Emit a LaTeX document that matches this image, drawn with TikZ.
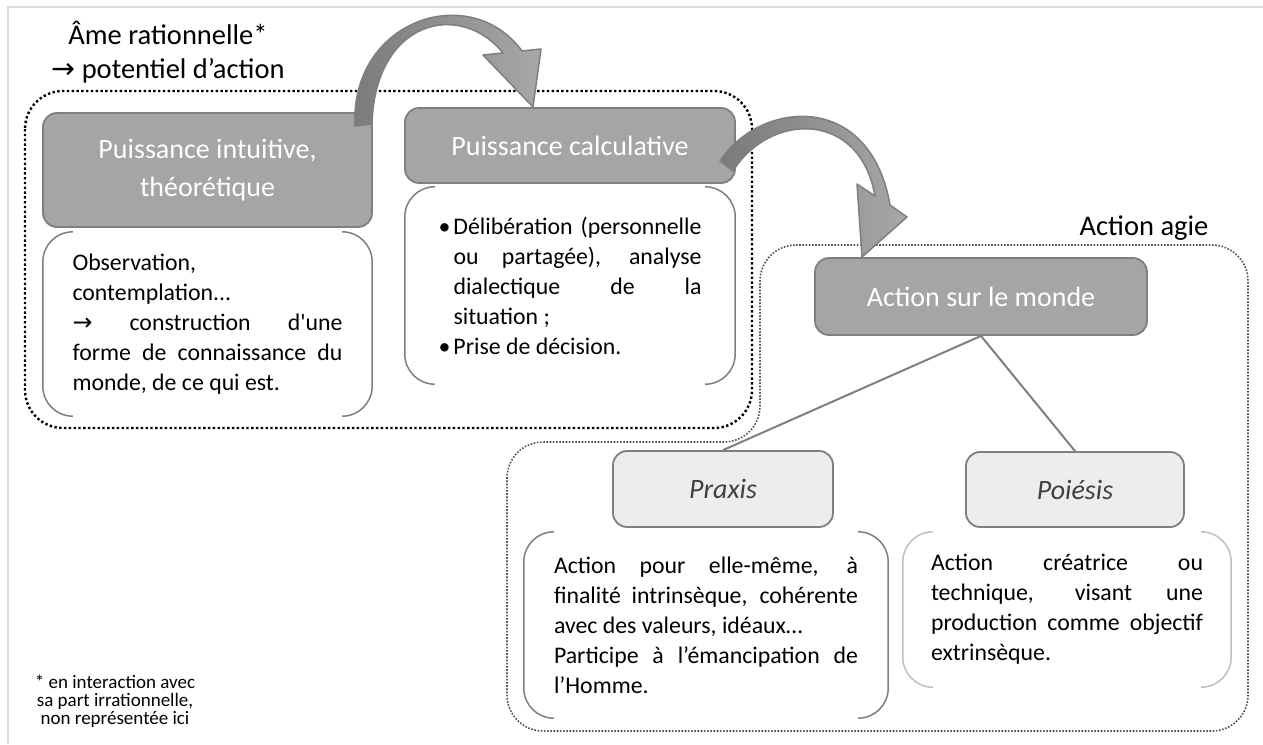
\documentclass[tikz,border=0pt]{standalone}
\usepackage{fontspec}
\setmainfont{Carlito}
\newfontfamily\symfont{DejaVu Sans}
\setlength{\parindent}{0pt}
\hyphenpenalty=10000
\exhyphenpenalty=10000
\definecolor{hdrfill}{HTML}{A5A5A5}
\definecolor{hdrdraw}{HTML}{7F7F7F}
\definecolor{lightfill}{HTML}{EDEDED}
\definecolor{brkgray}{HTML}{7F7F7F}
\definecolor{brklight}{HTML}{BFBFBF}
\definecolor{framegray}{HTML}{D9D9D9}
\definecolor{dotgray}{HTML}{505050}
\definecolor{arrdark}{HTML}{7A7A7A}
\definecolor{arrlight}{HTML}{A8A8A8}
\definecolor{italtext}{HTML}{404040}
\newcommand\myhdr{\fontsize{28pt}{38pt}\selectfont}
\newcommand\mybody{\fontsize{23.8pt}{30pt}\selectfont}
\newcommand\mytitle{\fontsize{28.5pt}{34pt}\selectfont}
\newcommand\mynote{\fontsize{19pt}{17.8pt}\selectfont}
\newcommand\brk[2]{%
  \draw[brkline,#2] ([xshift=30pt]#1.north west) -- (#1.north west) -- (#1.south west) -- ([xshift=30pt]#1.south west);
  \draw[brkline,#2] ([xshift=-30pt]#1.north east) -- (#1.north east) -- (#1.south east) -- ([xshift=-30pt]#1.south east);}
\begin{document}
\begin{tikzpicture}[x=1pt,y=-1pt,
  hdr/.style={draw=hdrdraw, line width=1.8pt, fill=hdrfill, rounded corners=14pt, text=white, font=\myhdr, align=center, inner sep=0pt},
  sub/.style={draw=hdrdraw, line width=1.8pt, fill=lightfill, rounded corners=14pt, text=italtext, font=\myhdr\itshape, inner sep=0pt},
  body/.style={inner sep=0pt, font=\mybody, align=justify},
  brkline/.style={line width=1.5pt, rounded corners=30pt},
  grpblack/.style={draw=black, line width=2.4pt, dash pattern=on 2.4pt off 2.4pt, rounded corners=38pt},
  grpgray/.style={draw=dotgray, line width=1.6pt, dash pattern=on 1.6pt off 1.6pt, rounded corners=36pt},
  conn/.style={draw=hdrdraw, line width=2pt},
  curvarrow/.style={draw=hdrdraw, line width=1.5pt, left color=arrdark, right color=arrlight, line join=round},
  lbl/.style={inner sep=0pt, align=center}]
\useasboundingbox (0,0) rectangle (1263,744);
\fill[white] (0,0) rectangle (1263,744);
% outer frame
\draw[framegray, line width=1.5pt] (8,744) -- (8,7) -- (1263,7);
% group frames
\draw[grpblack] (25,91) rectangle (752,428);
\draw[grpgray] (760,245) -- (1248,245) -- (1248,731) -- (507,731) -- (507,442) -- (760,442) -- cycle;
% labels
\node[lbl, font=\mytitle] (T) at (168,52) {Âme rationnelle*\\{\symfont →} potentiel d’action};
\node[lbl, font=\mytitle] (AG) at (1144,228) {Action agie};
\node[lbl, font=\mynote] (N) at (115,701) {* en interaction avec\\sa part irrationnelle,\\non représentée ici};
% boxes
\node[hdr, minimum width=329pt, minimum height=114pt] (A) at (207.5,170) {Puissance intuitive,\\théorétique};
\node[body, text width=270pt, minimum width=329pt, minimum height=184pt] (bA) at (207.5,324) {Observation,\par contemplation...\par {\symfont →} construction d\textquotesingle une\linebreak forme de connaissance du\linebreak monde, de ce qui est.};
\brk{bA}{brkgray}
\node[hdr, minimum width=330pt, minimum height=75pt] (B) at (570,145.5) {Puissance calculative};
\node[body, text width=263pt, minimum width=330pt, minimum height=197pt] (bB) at (570,285.5) {\hangindent=15pt\hangafter=1\makebox[15pt][l]{•}Délibération (personnelle\linebreak ou partagée), analyse\linebreak dialectique de la\linebreak situation~;\par\hangindent=15pt\hangafter=1\makebox[15pt][l]{•}Prise de décision.};
\brk{bB}{brkgray}
\node[hdr, minimum width=332pt, minimum height=77pt] (C) at (981,296.5) {Action sur le monde};
\node[sub, minimum width=220pt, minimum height=76pt] (P) at (723,489) {Praxis};
\node[sub, minimum width=218pt, minimum height=75pt] (Q) at (1075,489.5) {Poiésis};
\node[body, text width=304pt, minimum width=364pt, minimum height=186pt] (bP) at (706,625) {Action pour elle-même, à\linebreak finalité intrinsèque, cohérente\linebreak avec des valeurs, idéaux…\par Participe à l’émancipation de\linebreak l’Homme.};
\brk{bP}{brkgray}
\node[body, text width=272pt, minimum width=328pt, minimum height=155pt] (bQ) at (1067,609.5) {Action créatrice ou\linebreak technique, visant une\linebreak production comme objectif\linebreak extrinsèque.};
\brk{bQ}{brklight}
% connectors
\draw[conn] (C.south) -- (P.north);
\draw[conn] (C.south) -- (Q.north);
% curved arrows
\path[curvarrow] (355,126) .. controls (350,20) and (470,-20) .. (522,51)
  -- (541,49) -- (533,107) -- (483,55) -- (503,53)
  .. controls (460,0) and (375,20) .. (372,124) -- cycle;
\path[curvarrow] (720,161) .. controls (760,100) and (870,90) .. (890,205)
  -- (907,217) -- (862,257) -- (857,184) -- (875,196)
  .. controls (860,110) and (770,112) .. (733,171) -- cycle;
\end{tikzpicture}
\end{document}
